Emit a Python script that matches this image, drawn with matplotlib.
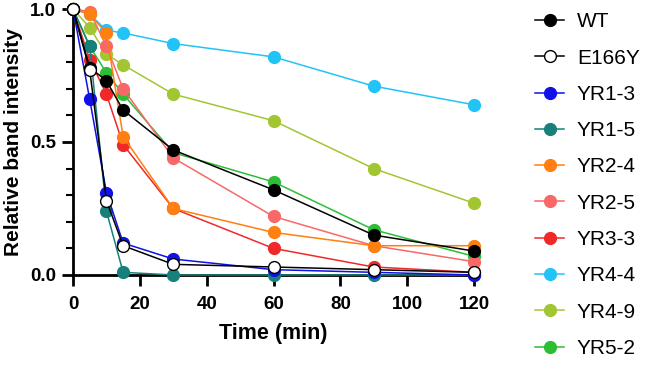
import matplotlib
matplotlib.use('Agg')
import matplotlib.pyplot as plt
from matplotlib.ticker import MultipleLocator

plt.rcParams['font.family'] = ['Liberation Sans', 'DejaVu Sans']

time_min = [0, 5, 10, 15, 30, 60, 90, 120]

wt = [1.0, 0.78, 0.73, 0.62, 0.47, 0.32, 0.15, 0.09]
e166y = [1.0, 0.77, 0.28, 0.11, 0.04, 0.03, 0.02, 0.01]
yr1_3 = [1.0, 0.66, 0.31, 0.12, 0.06, 0.02, 0.01, 0.0]
yr1_5 = [1.0, 0.86, 0.24, 0.01, 0.0, 0.0, 0.0, 0.0]
yr2_4 = [1.0, 0.98, 0.91, 0.52, 0.25, 0.16, 0.11, 0.11]
yr2_5 = [1.0, 0.99, 0.86, 0.70, 0.44, 0.22, 0.11, 0.05]
yr3_3 = [1.0, 0.81, 0.68, 0.49, 0.25, 0.10, 0.03, 0.01]
yr4_4 = [1.0, 0.98, 0.92, 0.91, 0.87, 0.82, 0.71, 0.64]
yr4_9 = [1.0, 0.93, 0.83, 0.79, 0.68, 0.58, 0.40, 0.27]
yr5_2 = [1.0, 0.86, 0.76, 0.68, 0.46, 0.35, 0.17, 0.07]

labels = ['WT', 'E166Y', 'YR1-3', 'YR1-5', 'YR2-4', 'YR2-5', 'YR3-3', 'YR4-4', 'YR4-9', 'YR5-2']
series = [wt, e166y, yr1_3, yr1_5, yr2_4, yr2_5, yr3_3, yr4_4, yr4_9, yr5_2]
colors = ['black', 'black', '#1010e8', '#17807a', '#ff7f10', '#f86868',
          '#f02828', '#22c4f8', '#a2c632', '#2cbe34']

fig = plt.figure(figsize=(6.45, 3.72), dpi=100)
ax = fig.add_axes([0.1132, 0.2608, 0.6217, 0.715])

handles = {}
for i in reversed(range(len(series))):
    face = 'white' if labels[i] == 'E166Y' else colors[i]
    line, = ax.plot(time_min, series[i], '-o', color=colors[i], mfc=face, mec=colors[i],
                    lw=1.1, ms=8.5, mew=1.0, clip_on=False, zorder=3 + (1 if labels[i] == 'E166Y' else 0),
                    label=labels[i])
    handles[labels[i]] = line

ax.set_xlim(0, 120)
ax.set_ylim(0, 1.0)
ax.set_xticks([0, 20, 40, 60, 80, 100, 120])
ax.set_yticks([0.0, 0.5, 1.0])
ax.set_yticklabels(['0.0', '0.5', '1.0'])
ax.yaxis.set_minor_locator(MultipleLocator(0.1))

for s in ['top', 'right']:
    ax.spines[s].set_visible(False)
for s in ['left', 'bottom']:
    ax.spines[s].set_linewidth(2)

ax.tick_params(axis='both', which='major', length=8, width=2, labelsize=13.5, pad=4)
ax.tick_params(axis='x', which='major', pad=7)
ax.tick_params(axis='y', which='minor', length=5, width=1.5)
for t in ax.get_xticklabels() + ax.get_yticklabels():
    t.set_fontweight('bold')

ax.set_xlabel('Time (min)', fontsize=15.5, fontweight='bold', labelpad=7)
ax.set_ylabel('Relative band intensity', fontsize=15, fontweight='bold', labelpad=5)

leg = ax.legend([handles[l] for l in labels], labels, loc='upper left',
                bbox_to_anchor=(1.132, 1.019), frameon=False, fontsize=15,
                handlelength=1.4, handletextpad=0.6, labelspacing=0.83,
                borderaxespad=0)

fig.savefig('out.png', dpi=100)
